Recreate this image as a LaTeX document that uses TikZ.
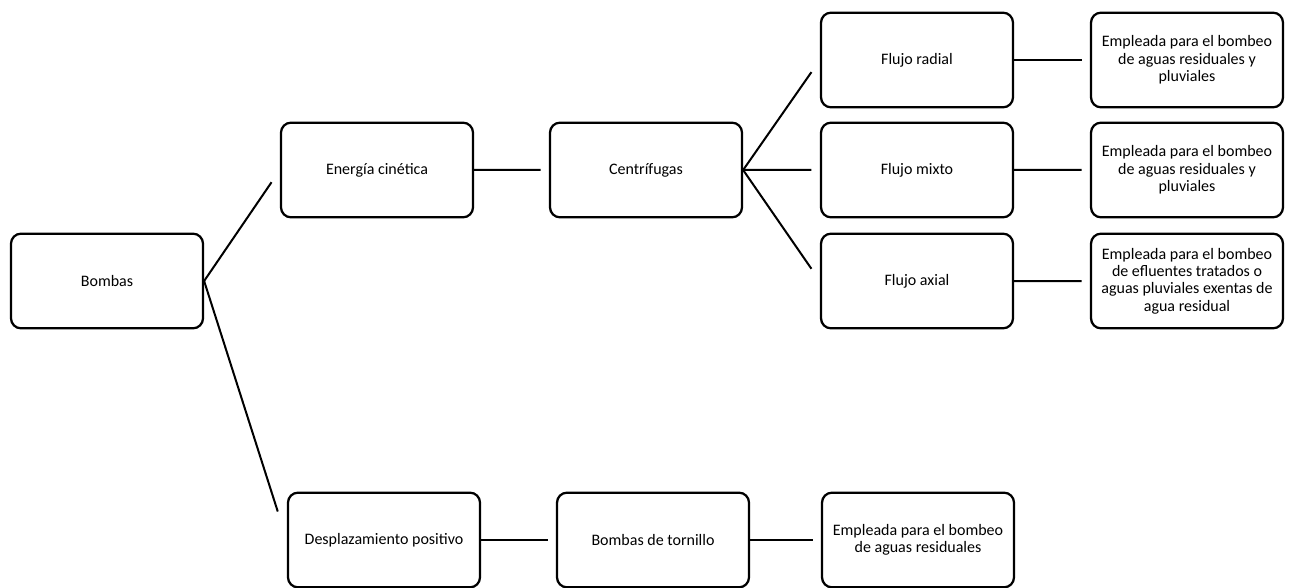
\documentclass[tikz,border=0pt]{standalone}
\usepackage{fontspec}
\setmainfont{Carlito}
\usetikzlibrary{calc}

\begin{document}
\begin{tikzpicture}[x=0.75pt,y=-0.75pt,
  font=\fontsize{12}{13}\selectfont,
  box/.style={draw=black,line width=1.7pt,rounded corners=7.5pt,fill=white,
              minimum width=144pt,minimum height=71pt,align=center,inner sep=2pt},
  link/.style={line width=1.5pt,color=black}]
  \useasboundingbox (0,0) rectangle (1291,588);
  % root
  \node[box] (bombas) at (107,281) {Bombas};
  % kinetic energy branch
  \node[box] (energia) at (377,170) {Energía cinética};
  \node[box] (centrif) at (646,170) {Centrífugas};
  \node[box] (radial) at (917,60)  {Flujo radial};
  \node[box] (mixto)  at (917,170) {Flujo mixto};
  \node[box] (axial)  at (917,281) {Flujo axial};
  \node[box] (usoA) at (1187,60)  {Empleada para el bombeo\\de aguas residuales y\\pluviales};
  \node[box] (usoB) at (1187,170) {Empleada para el bombeo\\de aguas residuales y\\pluviales};
  \node[box] (usoC) at (1187,281) {Empleada para el bombeo\\de efluentes tratados o\\aguas pluviales exentas de\\agua residual};
  % positive displacement branch
  \node[box] (desplaz)  at (384,540) {Desplazamiento positivo};
  \node[box] (tornillo) at (653,540) {Bombas de tornillo};
  \node[box] (usoD)     at (918,540) {Empleada para el bombeo\\de aguas residuales};
  % connectors
  \draw[link] (bombas.east) -- ($(bombas.east)!0.89!(energia.west)$);
  \draw[link] (bombas.east) -- ($(bombas.east)!0.89!(desplaz.west)$);
  \draw[link] (energia.east) -- ($(energia.east)!0.89!(centrif.west)$);
  \foreach \f in {radial,mixto,axial}
    \draw[link] (centrif.east) -- ($(centrif.east)!0.89!(\f.west)$);
  \draw[link] (radial.east) -- ($(radial.east)!0.89!(usoA.west)$);
  \draw[link] (mixto.east) -- ($(mixto.east)!0.89!(usoB.west)$);
  \draw[link] (axial.east) -- ($(axial.east)!0.89!(usoC.west)$);
  \draw[link] (desplaz.east) -- ($(desplaz.east)!0.89!(tornillo.west)$);
  \draw[link] (tornillo.east) -- ($(tornillo.east)!0.89!(usoD.west)$);
\end{tikzpicture}
\end{document}
